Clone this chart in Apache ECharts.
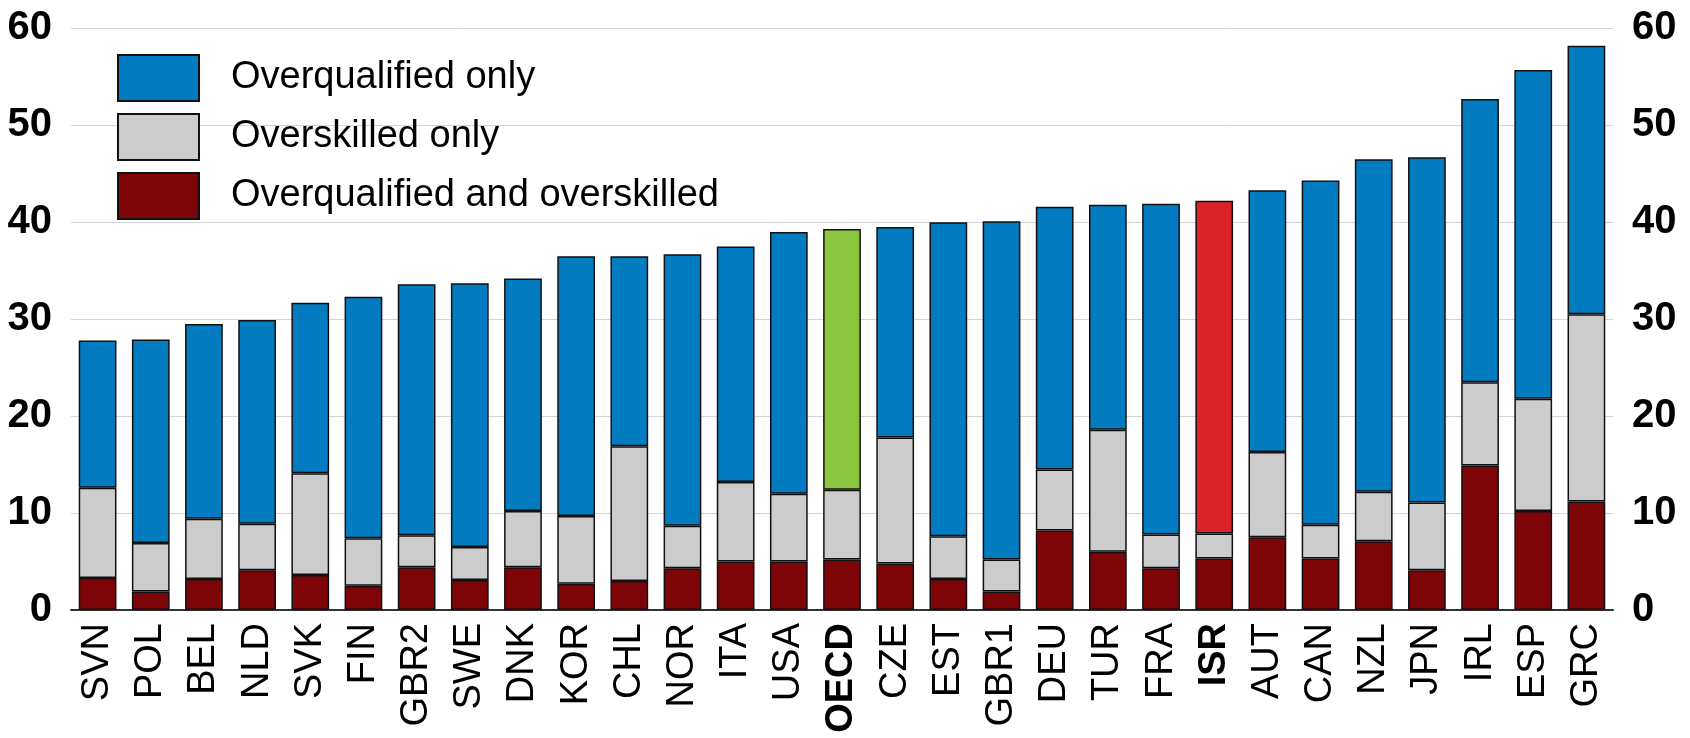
<!DOCTYPE html>
<html>
<head>
<meta charset="utf-8">
<script src="https://cdn.jsdelivr.net/npm/echarts@6/dist/echarts.min.js"></script>
<style>
html,body{margin:0;padding:0;background:#fff;}
#chart{width:1690px;height:738px;}
</style>
</head>
<body>
<div id="chart"></div>
<script>
const categories = ['SVN','POL','BEL','NLD','SVK','FIN','GBR2','SWE','DNK','KOR','CHL','NOR','ITA','USA','OECD','CZE','EST','GBR1','DEU','TUR','FRA','ISR','AUT','CAN','NZL','JPN','IRL','ESP','GRC'];
const overqualifiedAndOverskilled = [3.3,1.9,3.2,4.1,3.6,2.5,4.4,3.1,4.4,2.7,3.0,4.3,5.0,5.0,5.2,4.8,3.2,1.9,8.2,6.0,4.3,5.3,7.5,5.3,7.1,4.1,14.9,10.2,11.2];
const overskilledOnly = [9.3,5.0,6.2,4.8,10.5,4.9,3.3,3.4,5.8,7.0,13.9,4.4,8.2,7.0,7.2,13.0,4.4,3.3,6.3,12.6,3.5,2.6,8.8,3.5,5.1,7.0,8.6,11.6,19.3];
const overqualifiedOnly = [15.2,21.0,20.1,21.0,17.6,24.9,25.9,27.2,24.0,26.8,19.6,28.0,24.3,27.0,26.9,21.7,32.4,34.9,27.1,23.2,34.1,34.3,27.0,35.5,34.3,35.6,29.2,33.9,27.7];
const yTicks = [0,10,20,30,40,50,60];
const seriesNames = ['Overqualified only','Overskilled only','Overqualified and overskilled'];
const highlighted = ['OECD','ISR'];

const highlightColor = {OECD:'#8cc63f', ISR:'#d9222a'};
const border = {borderColor:'#111', borderWidth:1.5};
const font = "'Liberation Sans', Arial, sans-serif";

const blueData = overqualifiedOnly.map((v,i)=>{
  const c = categories[i];
  if (highlightColor[c]) return {value:v, itemStyle:{color:highlightColor[c]}};
  return v;
});

const yAxisCommon = {
  type:'value', min:yTicks[0], max:yTicks[yTicks.length-1], interval:10,
  axisLine:{show:false}, axisTick:{show:false},
  axisLabel:{fontFamily:font, fontWeight:'bold', fontSize:40, color:'#000', margin:19},
};

const chart = echarts.init(document.getElementById('chart'), null, {renderer:'canvas'});
chart.setOption({
  animation:false,
  backgroundColor:'#fff',
  grid:{left:71, right:77, top:28.3, bottom:128, containLabel:false},
  legend:{
    orient:'vertical', left:112, top:49,
    itemWidth:81, itemHeight:46, itemGap:11,
    icon:'rect',
    data:seriesNames,
    textStyle:{fontFamily:font, fontSize:38, lineHeight:46, color:'#000', padding:[0,0,0,27]},
    selectedMode:false
  },
  xAxis:{
    type:'category', data:categories,
    axisLine:{show:true, lineStyle:{color:'#333', width:2}},
    axisTick:{show:false},
    axisLabel:{
      rotate:90, margin:13, fontFamily:font, fontSize:38, color:'#000', interval:0,
      formatter:v=> highlighted.includes(v) ? '{b|'+v+'}' : v,
      rich:{b:{fontFamily:font, fontSize:38, fontWeight:'bold', color:'#000'}}
    }
  },
  yAxis:[
    Object.assign({}, yAxisCommon, {position:'left', splitLine:{show:true, lineStyle:{color:'#d4d4d4', width:1}}}),
    Object.assign({}, yAxisCommon, {position:'right', splitLine:{show:false}})
  ],
  series:[
    {name:seriesNames[2], type:'bar', stack:'a', data:overqualifiedAndOverskilled, barWidth:'71%',
     itemStyle:Object.assign({color:'#7d0508'}, border)},
    {name:seriesNames[1], type:'bar', stack:'a', data:overskilledOnly, barWidth:'71%',
     itemStyle:Object.assign({color:'#cccccc'}, border)},
    {name:seriesNames[0], type:'bar', stack:'a', data:blueData, barWidth:'71%',
     itemStyle:Object.assign({color:'#037bc1'}, border)}
  ]
});
</script>
</body>
</html>
